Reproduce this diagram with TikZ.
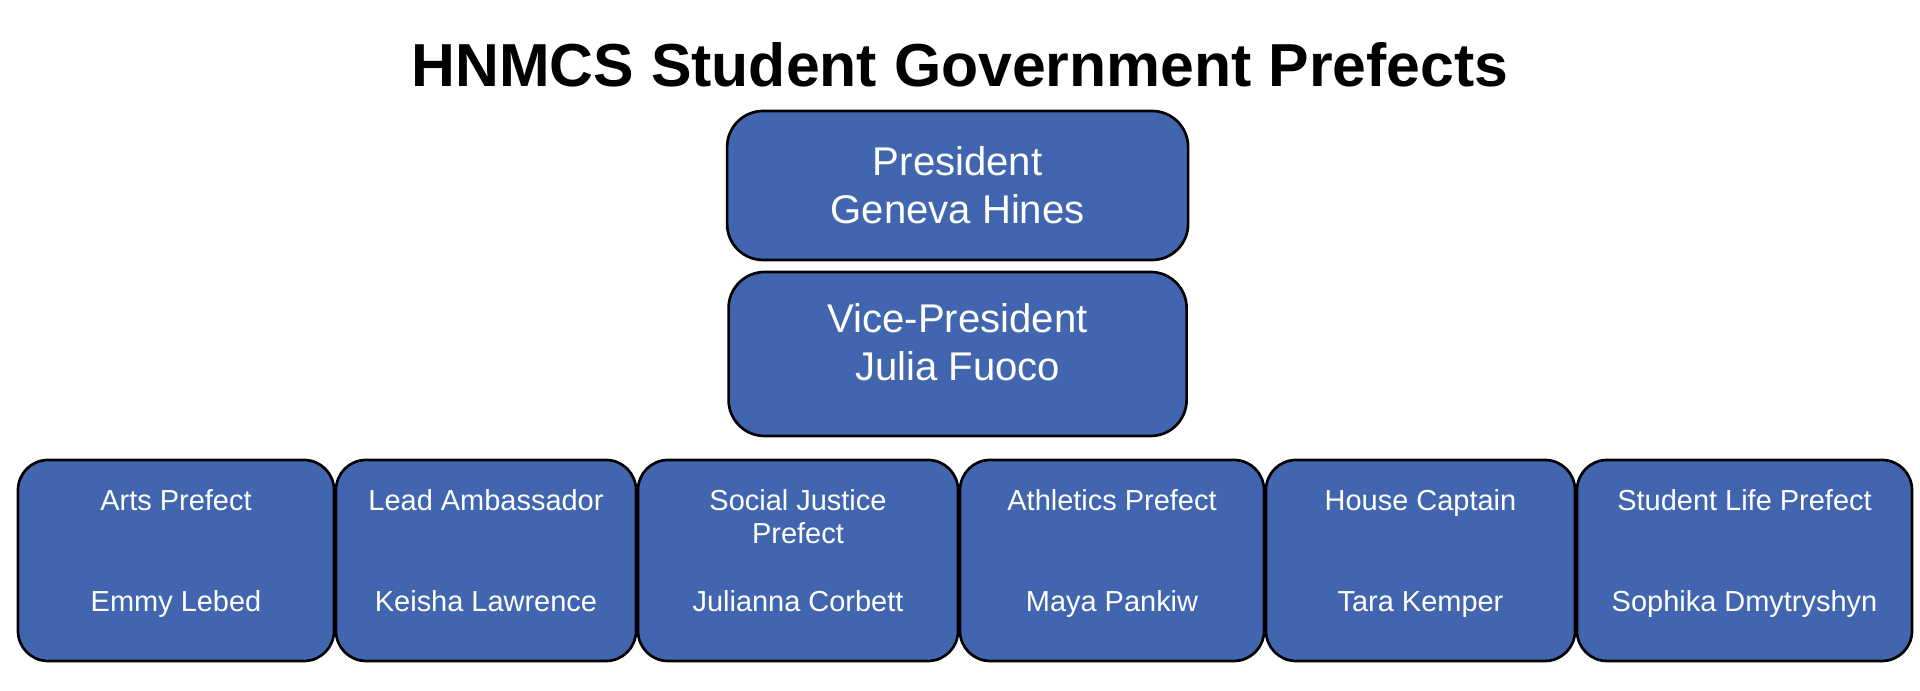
\documentclass[tikz,border=0pt]{standalone}
\usepackage{fontspec}
\setmainfont{Liberation Sans}
\usetikzlibrary{positioning}
\definecolor{boxBlue}{HTML}{4166AF}
\tikzset{
    officebox/.style={draw=black,fill=boxBlue,line width=1.9pt,rounded corners=0.9cm,
        text=white,align=center,outer sep=0pt,font=\fontsize{28.5}{34}\selectfont},
    prefectbox/.style={draw=black,fill=boxBlue,line width=1.9pt,rounded corners=0.75cm,
        minimum height=5.025cm,outer sep=0pt},
    roletext/.style={text=white,align=center,inner sep=0pt,anchor=north,
        font=\fontsize{20.6}{23.5}\selectfont},
    nametext/.style={text=white,inner sep=0pt,anchor=base,
        font=\fontsize{20.6}{23.5}\selectfont},
    headline/.style={font=\bfseries\fontsize{43.2}{50}\selectfont,inner sep=0pt,anchor=base}
}

\begin{document}
\begin{tikzpicture}
    \useasboundingbox (0,0) rectangle (48,17.275);
    \node[headline] (title) at (24.0,15.1) {HNMCS Student Government Prefects};
    \node[officebox,minimum width=11.525cm,minimum height=3.725cm] (pres) at (23.94,12.6375) {President\\Geneva Hines};
    \node[officebox,minimum width=11.45cm,minimum height=4.1cm] (vp) [below=0.3cm of pres] {Vice-President\\Julia Fuoco\rule[-0.6cm]{0pt}{0pt}};

    % prefects row
    \node[prefectbox,minimum width=7.9cm] (arts) at (4.4,3.2625) {};
    \node[prefectbox,minimum width=7.5cm] (ambassador) [right=0.05cm of arts] {};
    \node[prefectbox,minimum width=8.0cm] (justice) [right=0.05cm of ambassador] {};
    \node[prefectbox,minimum width=7.6cm] (athletics) [right=0.05cm of justice] {};
    \node[prefectbox,minimum width=7.725cm] (house) [right=0.05cm of athletics] {};
    \node[prefectbox,minimum width=8.375cm] (studentlife) [right=0.05cm of house] {};

    \node[roletext] (artsrole) at ([yshift=-0.74cm]arts.north) {Arts Prefect};
    \node[nametext] (artsname) at ([yshift=1.225cm]arts.south) {Emmy Lebed};
    \node[roletext] (ambassadorrole) at ([yshift=-0.74cm]ambassador.north) {Lead Ambassador};
    \node[nametext] (ambassadorname) at ([yshift=1.225cm]ambassador.south) {Keisha Lawrence};
    \node[roletext] (justicerole) at ([yshift=-0.74cm]justice.north) {Social Justice\\Prefect};
    \node[nametext] (justicename) at ([yshift=1.225cm]justice.south) {Julianna Corbett};
    \node[roletext] (athleticsrole) at ([yshift=-0.74cm]athletics.north) {Athletics Prefect};
    \node[nametext] (athleticsname) at ([yshift=1.225cm]athletics.south) {Maya Pankiw};
    \node[roletext] (houserole) at ([yshift=-0.74cm]house.north) {House Captain};
    \node[nametext] (housename) at ([yshift=1.225cm]house.south) {Tara Kemper};
    \node[roletext] (studentliferole) at ([yshift=-0.74cm]studentlife.north) {Student Life Prefect};
    \node[nametext] (studentlifename) at ([yshift=1.225cm]studentlife.south) {Sophika Dmytryshyn};
\end{tikzpicture}
\end{document}
